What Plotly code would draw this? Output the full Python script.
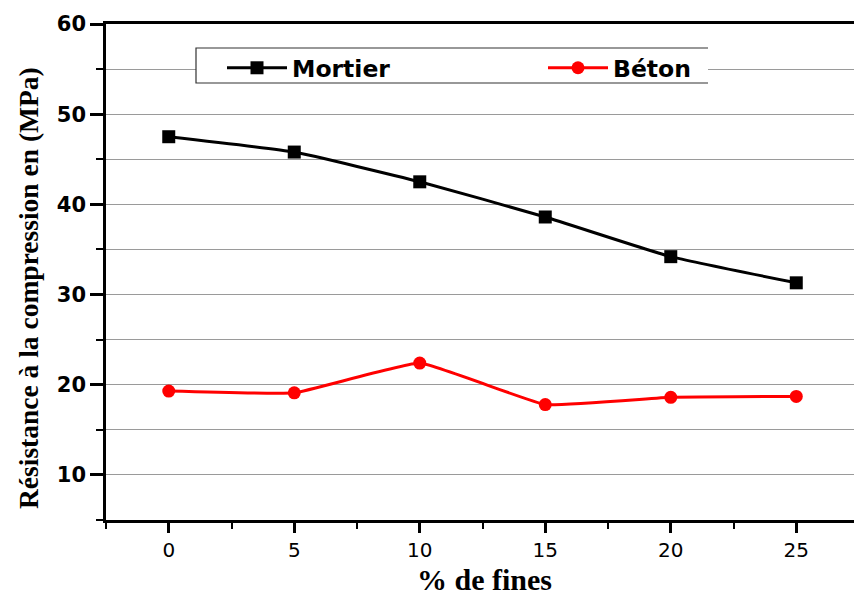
import plotly.graph_objects as go

fines = [0, 5, 10, 15, 20, 25]
mortier = [47.5, 45.8, 42.5, 38.6, 34.2, 31.3]
beton = [19.3, 19.1, 22.4, 17.8, 18.6, 18.7]
x_grid_vals = [0, 10, 15, 25]

fig = go.Figure()
fig.add_trace(go.Scatter(
    x=fines, y=mortier, name="Mortier", mode="lines+markers",
    line=dict(color="black", width=3, shape="spline", smoothing=0.4),
    marker=dict(symbol="square", size=13, color="black"),
    legend="legend",
))
fig.add_trace(go.Scatter(
    x=fines, y=beton, name="Béton", mode="lines+markers",
    line=dict(color="#ff0000", width=3, shape="spline", smoothing=0.3),
    marker=dict(symbol="circle", size=13, color="#ff0000"),
    legend="legend2",
))

W, H = 854, 595
L, R, T, B = 106, 0, 24, 75
pw = W - L - R
ph = H - T - B

def px_x(p):
    return (p - L) / pw

def px_y(p):
    return (H - B - p) / ph

# legend box (white fill, open on the right)
x0, x1 = px_x(196), px_x(708)
y0, y1 = px_y(83), px_y(48)
fig.add_shape(type="rect", xref="paper", yref="paper", x0=x0, x1=x1, y0=y0, y1=y1,
              fillcolor="white", line=dict(width=0), layer="above")
fig.add_shape(type="path", xref="paper", yref="paper",
              path=f"M {x1} {y1} L {x0} {y1} L {x0} {y0} L {x1} {y0}",
              line=dict(color="#333333", width=1.2), layer="above")

legend_font = dict(family="DejaVu Sans", size=23.5, color="black", weight="bold")
serif_title = dict(family="Liberation Serif, Times New Roman", size=27.5, color="black", weight="bold")

fig.add_annotation(text="Résistance à la compression en (MPa)", xref="paper", yref="paper",
                   x=px_x(28), y=px_y(288), xanchor="center", yanchor="middle",
                   textangle=-90, showarrow=False, font=serif_title)
fig.add_annotation(text="% de fines", xref="paper", yref="paper",
                   x=px_x(484), y=px_y(598), xanchor="center", yanchor="bottom",
                   showarrow=False, font=dict(serif_title, size=30))

fig.update_layout(
    width=W, height=H,
    margin=dict(l=L, r=R, t=T, b=B),
    paper_bgcolor="white", plot_bgcolor="white",
    showlegend=True,
    legend=dict(x=px_x(222), y=px_y(68), xanchor="left", yanchor="middle",
                bgcolor="rgba(0,0,0,0)", borderwidth=0, font=legend_font,
                itemwidth=60),
    legend2=dict(x=px_x(543), y=px_y(68), xanchor="left", yanchor="middle",
                 bgcolor="rgba(0,0,0,0)", borderwidth=0, font=legend_font,
                 itemwidth=60),
    xaxis=dict(
        range=[-2.5, 27.3], tickmode="linear", tick0=0, dtick=5, automargin=False,
        showgrid=False, zeroline=False,
        showline=True, linecolor="black", linewidth=2.5, mirror=True,
        ticks="outside", ticklen=10, tickwidth=2.5, tickcolor="black",
        minor=dict(dtick=2.5, tick0=0, ticks="outside", ticklen=6, tickwidth=2, tickcolor="black", showgrid=False),
        tickfont=dict(family="DejaVu Sans", size=20, color="black"),
    ),
    xaxis2=dict(
        overlaying="x", matches="x", range=[-2.5, 27.3], automargin=False,
        tickmode="array", tickvals=x_grid_vals, showticklabels=False, ticks="",
        showgrid=True, gridcolor="#9a9a9a", gridwidth=1, zeroline=False, showline=False,
        layer="below traces",
    ),
    yaxis=dict(
        range=[5, 60], tickmode="linear", tick0=0, dtick=10, automargin=False,
        showgrid=True, gridcolor="#9a9a9a", gridwidth=1, zeroline=False,
        showline=True, linecolor="black", linewidth=2.5, mirror=True,
        ticks="outside", ticklen=13, tickwidth=2.5, tickcolor="black",
        minor=dict(dtick=5, tick0=0, ticks="outside", ticklen=7, tickwidth=2, tickcolor="black",
                   showgrid=True, gridcolor="#9a9a9a", gridwidth=1),
        tickfont=dict(family="DejaVu Sans", size=21, color="black", weight="bold"),
    ),
)

fig.write_html("out.html", config={"displayModeBar": False},
               post_script="document.body.style.margin='0';")
